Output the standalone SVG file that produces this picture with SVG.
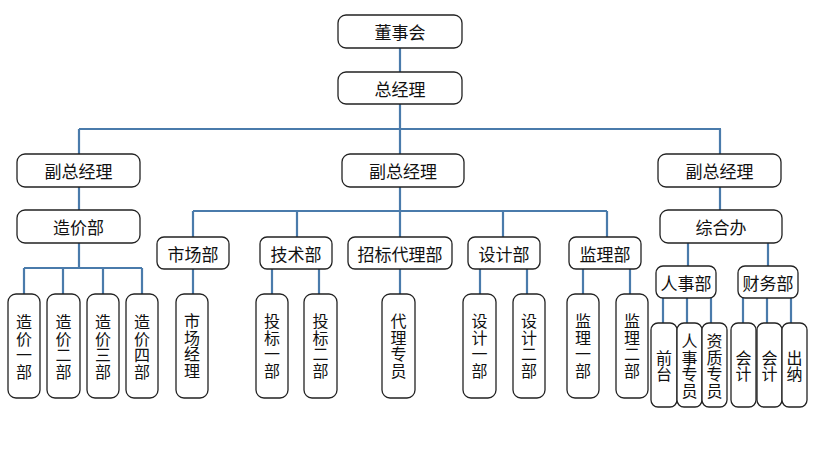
<svg xmlns="http://www.w3.org/2000/svg" width="820" height="468" viewBox="0 0 820 468">
<style>
.b{fill:#fff;stroke:#222;stroke-width:1.3}
.t{font-family:"Noto Sans CJK SC","Noto Sans",sans-serif;font-size:17px;fill:#111;text-anchor:middle;dominant-baseline:central}
.v{font-family:"Noto Sans CJK SC","Noto Sans",sans-serif;font-size:16px;fill:#111;text-anchor:middle;writing-mode:vertical-rl;letter-spacing:0.5px}
.c{fill:none;stroke:#4a7bab;stroke-width:2.2}
</style>
<rect width="820" height="468" fill="#fff"/>
<g id="connectors" class="c">
<path d="M400 48V72M400 104V154M79 129H721M79 129V154M720 129V154"/>
<path d="M79 187V210M79 243V268M24 268H142M24 268V294M63 268V294M103 268V294M142 268V294"/>
<path d="M400 187V237M193 211H607M193 211V237M297 211V237M503 211V237M607 211V237"/>
<path d="M193 269V294M272 269V294M319 269V294M400 269V294M480 269V294M527 269V294M583 269V294M630 269V294"/>
<path d="M720 187V210M688 243V266M768 243V266M663 298V323M687 298V323M711 298V323M743 298V323M767 298V323M791 298V323"/>
</g>
<g id="n_dsh"><rect class="b" x="338" y="15" width="124" height="33" rx="8"/><text class="t" x="400" y="31.5">董事会</text></g>
<g id="n_zjl"><rect class="b" x="338" y="72" width="124" height="32" rx="8"/><text class="t" x="400" y="88">总经理</text></g>
<g id="n_fz1"><rect class="b" x="17" y="154" width="123" height="33" rx="8"/><text class="t" x="78.5" y="170.5">副总经理</text></g>
<g id="n_fz2"><rect class="b" x="342" y="154" width="122" height="33" rx="8"/><text class="t" x="403" y="170.5">副总经理</text></g>
<g id="n_fz3"><rect class="b" x="658" y="154" width="123" height="33" rx="8"/><text class="t" x="719.5" y="170.5">副总经理</text></g>
<g id="n_zjb"><rect class="b" x="17" y="210" width="123" height="33" rx="8"/><text class="t" x="78.5" y="226.5">造价部</text></g>
<g id="n_zhb"><rect class="b" x="660" y="210" width="122" height="33" rx="8"/><text class="t" x="721" y="226.5">综合办</text></g>
<g id="n_scb"><rect class="b" x="157" y="237" width="72" height="32" rx="7"/><text class="t" x="193" y="253">市场部</text></g>
<g id="n_jsb"><rect class="b" x="260" y="237" width="72" height="32" rx="7"/><text class="t" x="296" y="253">技术部</text></g>
<g id="n_zbdl"><rect class="b" x="348" y="237" width="104" height="32" rx="7"/><text class="t" x="400" y="253">招标代理部</text></g>
<g id="n_sjb"><rect class="b" x="468" y="237" width="72" height="32" rx="7"/><text class="t" x="504" y="253">设计部</text></g>
<g id="n_jlb"><rect class="b" x="569" y="237" width="72" height="32" rx="7"/><text class="t" x="605" y="253">监理部</text></g>
<g id="n_rsb"><rect class="b" x="656" y="266" width="60" height="32" rx="7"/><text class="t" x="686" y="282">人事部</text></g>
<g id="n_cwb"><rect class="b" x="738" y="266" width="60" height="32" rx="7"/><text class="t" x="768" y="282">财务部</text></g>
<g id="n_zj1"><rect class="b" x="8" y="294" width="32" height="104" rx="8"/><text class="v" x="24" y="347">造价一部</text></g>
<g id="n_zj2"><rect class="b" x="47" y="294" width="33" height="104" rx="8"/><text class="v" x="63.5" y="347">造价二部</text></g>
<g id="n_zj3"><rect class="b" x="87" y="294" width="32" height="104" rx="8"/><text class="v" x="103" y="347">造价三部</text></g>
<g id="n_zj4"><rect class="b" x="126" y="294" width="32" height="104" rx="8"/><text class="v" x="142" y="347">造价四部</text></g>
<g id="n_scjl"><rect class="b" x="176" y="294" width="32" height="104" rx="8"/><text class="v" x="192" y="346">市场经理</text></g>
<g id="n_tb1"><rect class="b" x="256" y="294" width="32" height="104" rx="8"/><text class="v" x="272" y="346">投标一部</text></g>
<g id="n_tb2"><rect class="b" x="304" y="294" width="33" height="104" rx="8"/><text class="v" x="320.5" y="346">投标二部</text></g>
<g id="n_dlzy"><rect class="b" x="382" y="294" width="33" height="104" rx="8"/><text class="v" x="398.5" y="346">代理专员</text></g>
<g id="n_sj1"><rect class="b" x="463" y="294" width="33" height="104" rx="8"/><text class="v" x="479.5" y="346">设计一部</text></g>
<g id="n_sj2"><rect class="b" x="513" y="294" width="32" height="104" rx="8"/><text class="v" x="529" y="346">设计二部</text></g>
<g id="n_jl1"><rect class="b" x="567" y="294" width="32" height="104" rx="8"/><text class="v" x="583" y="346">监理一部</text></g>
<g id="n_jl2"><rect class="b" x="616" y="294" width="32" height="104" rx="8"/><text class="v" x="632" y="346">监理二部</text></g>
<g id="n_qt"><rect class="b" x="651" y="323" width="26" height="84" rx="7"/><text class="v" x="664" y="366">前台</text></g>
<g id="n_rszy"><rect class="b" x="677" y="323" width="25" height="84" rx="7"/><text class="v" x="689.5" y="366">人事专员</text></g>
<g id="n_zzzy"><rect class="b" x="702" y="323" width="25" height="84" rx="7"/><text class="v" x="714.5" y="366">资质专员</text></g>
<g id="n_kj1"><rect class="b" x="731" y="323" width="25" height="84" rx="7"/><text class="v" x="743.5" y="366">会计</text></g>
<g id="n_kj2"><rect class="b" x="757" y="323" width="25" height="84" rx="7"/><text class="v" x="769.5" y="366">会计</text></g>
<g id="n_cn"><rect class="b" x="782" y="323" width="25" height="84" rx="7"/><text class="v" x="794.5" y="366">出纳</text></g>
</svg>
